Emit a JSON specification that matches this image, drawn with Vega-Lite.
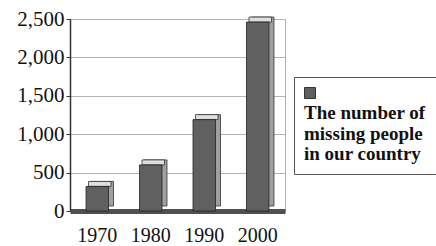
{
  "$schema": "https://vega.github.io/schema/vega-lite/v6.json",
  "autosize": "none",
  "width": 215,
  "height": 192,
  "padding": {"left": 70, "top": 19, "right": 151, "bottom": 35},
  "background": "white",
  "config": {
    "view": {"stroke": "#b0b0b0", "strokeWidth": 1},
    "font": "Liberation Serif",
    "axis": {"labelFont": "Liberation Serif", "labelColor": "#111", "titleColor": "#111"}
  },
  "data": {"values": [
    {"year": "1970", "people": 320},
    {"year": "1980", "people": 600},
    {"year": "1990", "people": 1190},
    {"year": "2000", "people": 2460}
  ]},
  "encoding": {
    "x": {"field": "year", "type": "nominal",
      "scale": {"paddingInner": 0.58, "paddingOuter": 0.3},
      "axis": {"title": null, "labelAngle": 0, "labelFontSize": 20, "labelPadding": 14,
        "ticks": false, "domainColor": "#505050", "domainWidth": 5, "labelFont": "Liberation Serif"}},
    "y": {"field": "people", "type": "quantitative",
      "scale": {"domain": [0, 2500], "nice": false},
      "axis": {"title": null, "values": [0, 500, 1000, 1500, 2000, 2500], "format": ",d",
        "labelFontSize": 21, "tickSize": 4, "tickColor": "#333", "domainColor": "#333", "domainWidth": 1.5,
        "gridColor": "#b5b5b5", "gridWidth": 1, "labelPadding": 2, "labelFont": "Liberation Serif"}}
  },
  "layer": [
    {"mark": {"type": "bar", "xOffset": 5, "yOffset": -5, "color": "#a0a0a0", "stroke": "#333", "strokeWidth": 0.8}},
    {"mark": {"type": "tick", "xOffset": 2.5, "yOffset": -2.5, "thickness": 5, "size": 22.5, "color": "#dedede", "stroke": "#333", "strokeWidth": 0.8, "opacity": 1}},
    {"mark": {"type": "bar", "stroke": "#222", "strokeWidth": 0.8},
      "encoding": {
        "color": {"datum": "series", "type": "nominal",
          "scale": {"range": ["#606060"]},
          "legend": {
            "orient": "none", "legendX": 224, "legendY": 58,
            "title": ["The number of", "missing people", "in our country"],
            "titleOrient": "bottom", "titleAnchor": "start",
            "titleFont": "Liberation Serif", "titleFontSize": 19, "titleFontWeight": "bold",
            "titleLineHeight": 20.5, "titleColor": "#111", "titlePadding": 4,
            "labelExpr": "''", "symbolType": "square", "symbolSize": 120,
            "symbolStrokeColor": "#333", "symbolStrokeWidth": 1, "symbolFillColor": "#606060",
            "strokeColor": "#555", "fillColor": "white", "padding": 10
          }
        }
      }
    }
  ]
}
